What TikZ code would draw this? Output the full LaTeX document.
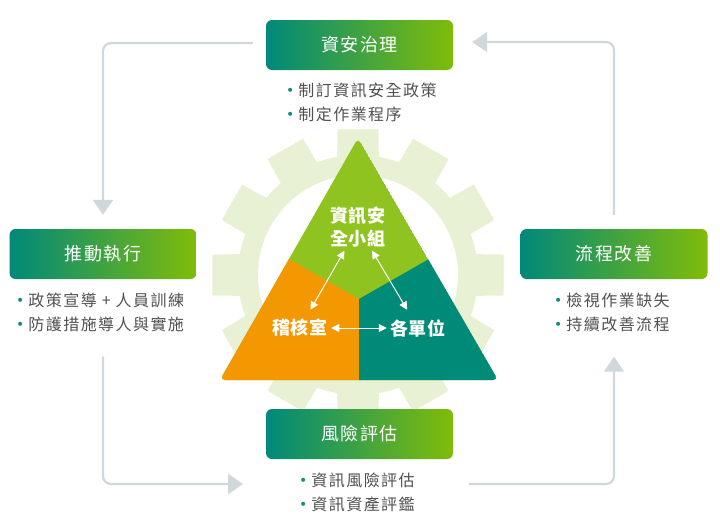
\documentclass[tikz,border=0pt]{standalone}
\usepackage{fontspec}
\usepackage{xcolor}
\usepackage{tikz}
\usetikzlibrary{arrows.meta}
\setmainfont{Noto Sans CJK TC}
\newfontfamily\dotfont{DejaVu Sans}

\definecolor{gearbg}{RGB}{232,241,212}
\definecolor{topgreen}{RGB}{143,195,31}
\definecolor{auditorange}{RGB}{243,152,0}
\definecolor{unitteal}{RGB}{0,139,120}
\definecolor{boxleft}{RGB}{0,137,122}
\definecolor{boxright}{RGB}{128,188,8}
\definecolor{flowgray}{RGB}{208,216,220}
\definecolor{bulletteal}{RGB}{20,140,125}
\definecolor{bodytext}{RGB}{80,80,80}

\newcommand{\bitem}{\raisebox{0.5pt}{\dotfont\fontsize{14}{14}\selectfont\textcolor{bulletteal}{•}}\hspace{4pt}}

\tikzset{
  stagebox/.style={rounded corners=6pt, left color=boxleft, right color=boxright,
    minimum width=187pt, minimum height=50pt, text=white,
    font=\fontsize{18}{18}\selectfont\addfontfeature{LetterSpace=8}},
  bullets/.style={align=left, anchor=west, inner sep=0pt, text=bodytext,
    font=\fontsize{16}{24}\selectfont\addfontfeature{LetterSpace=9}},
  flow/.style={draw=flowgray, line width=2.2pt, rounded corners=8pt,
    -{Triangle[length=15pt,width=20pt]}},
  tritext/.style={text=white, align=center,
    font=\fontsize{18}{23}\selectfont\bfseries\addfontfeature{LetterSpace=4}},
  twoway/.style={draw=white, line width=1pt,
    {Triangle[length=8pt,width=8pt]}-{Triangle[length=8pt,width=8pt]}},
}

\begin{document}
\begin{tikzpicture}[x=1pt,y=-1pt]
    \useasboundingbox (0,0) rectangle (720,530);

    \begin{scope}[shift={(358,275)}]
        \fill[gearbg] (80:120) \foreach \a in {90,120,...,420} { -- (\a-10:120) -- (\a-8:147) -- (\a+8:147) -- (\a+10:120) -- (\a+15:120)} -- cycle;
        \fill[white] (0,0) circle[radius=100pt];
    \end{scope}

    \coordinate (apex) at (358,138);
    \coordinate (lc) at (220,380);
    \coordinate (rc) at (498,380);
    \coordinate (mid) at (359,299);
    \coordinate (bmid) at (359,380);

    \begin{scope}
        \clip[rounded corners=5pt] (apex) -- (lc) -- (rc) -- cycle;
        \fill[topgreen] (apex) -- (lc) -- (rc) -- cycle;
        \fill[auditorange] (254,239) -- (mid) -- (bmid) -- (359,400) -- (200,400) -- cycle;
        \fill[unitteal] (464,239) -- (mid) -- (bmid) -- (359,400) -- (520,400) -- cycle;
    \end{scope}

    \node[tritext] (team) at (358,227) {資訊安\\全小組};
    \node[tritext] (audit) at (300,328) {稽核室};
    \node[tritext] (units) at (418,328) {各單位};
    \draw[twoway, shorten >=7pt] (team) -- (audit);
    \draw[twoway, shorten >=7pt] (team) -- (units);
    \draw[twoway] (audit) -- (units);

    \node[stagebox] (gov) at (359.5,45) {資安治理};
    \node[stagebox] (exec) at (103,254) {推動執行};
    \node[stagebox] (impr) at (614,254) {流程改善};
    \node[stagebox] (risk) at (359.5,434) {風險評估};

    \node[bullets] (govbul) at (286,102) {\bitem 制訂資訊安全政策\\\bitem 制定作業程序};
    \node[bullets] (execbul) at (16,312) {\bitem 政策宣導 + 人員訓練\\\bitem 防護措施導人與實施};
    \node[bullets] (imprbul) at (554,312) {\bitem 檢視作業缺失\\\bitem 持續改善流程};
    \node[bullets] (riskbul) at (299,492) {\bitem 資訊風險評估\\\bitem 資訊資產評鑑};

    \draw[flow, shorten <=13pt, shorten >=14pt] ([yshift=2pt]gov.west) -| (exec.north);
    \draw[flow, shorten <=25pt, shorten >=56pt] (execbul.south -| exec.south) |- ([yshift=8pt]riskbul.west);
    \draw[flow, shorten <=54pt, shorten >=25pt] ([yshift=8pt]riskbul.east) -| (imprbul.south -| impr.south);
    \draw[flow, shorten <=14pt, shorten >=19pt] (impr.north) |- ([yshift=3pt]gov.east);

\end{tikzpicture}
\end{document}
